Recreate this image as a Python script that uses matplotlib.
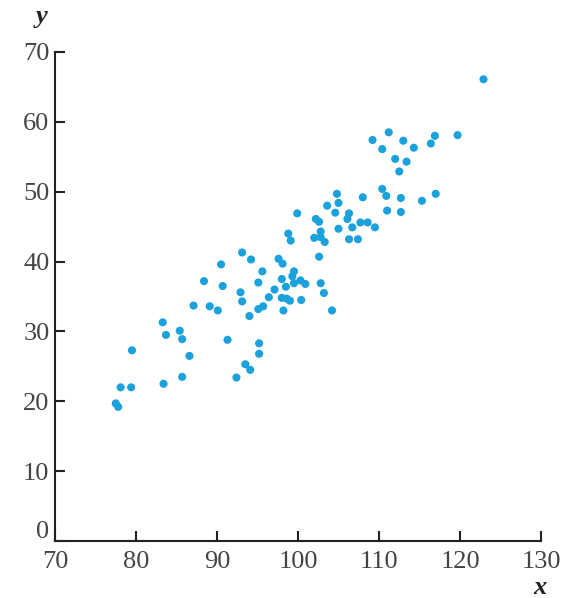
import numpy as np
import matplotlib
matplotlib.use('Agg')
import matplotlib.pyplot as plt
import matplotlib.transforms as mtransforms

# 数据
x_vals = [77.5, 77.8, 78.1, 79.4, 79.5, 83.3, 83.7, 83.4, 85.4, 85.7,
          86.6, 85.7, 87.1, 89.1, 90.1, 88.4, 90.5, 90.7, 91.3, 92.4,
          93.5, 94.1, 95.2, 95.2, 94.0, 93.1, 94.2, 92.9, 93.1, 95.1,
          95.6, 95.1, 95.7, 96.4, 97.1, 97.6, 98.1, 98.0, 99.3, 99.5,
          98.5, 98.0, 98.6, 99.0, 98.2, 100.3, 100.9, 100.4, 99.9, 98.8,
          99.1, 102.0, 102.8, 102.8, 103.3, 102.6, 102.8, 103.2, 104.2, 99.5,
          102.2, 102.6, 103.6, 104.8, 105.0, 104.6, 105.0, 106.3, 106.1, 106.7,
          106.3, 107.4, 107.7, 108.6, 109.5, 108.0, 110.4, 110.9, 112.7, 111.0,
          112.7, 115.3, 117.0, 109.2, 111.2, 110.4, 113.0, 114.3, 112.0, 113.4,
          112.5, 116.4, 116.9, 119.7, 122.9]
y_vals = [19.7, 19.2, 22.0, 22.0, 27.3, 31.3, 29.5, 22.5, 30.1, 28.9,
          26.5, 23.5, 33.7, 33.6, 33.0, 37.2, 39.6, 36.5, 28.8, 23.4,
          25.3, 24.5, 28.3, 26.8, 32.2, 41.3, 40.3, 35.6, 34.3, 37.0,
          38.6, 33.2, 33.6, 34.9, 36.0, 40.4, 39.7, 37.5, 37.9, 38.6,
          36.4, 34.8, 34.7, 34.4, 33.0, 37.3, 36.8, 34.5, 46.9, 44.0,
          43.0, 43.4, 44.3, 43.5, 42.8, 40.7, 36.9, 35.5, 33.0, 36.9,
          46.1, 45.7, 48.0, 49.7, 48.4, 47.0, 44.7, 46.9, 46.1, 44.9,
          43.2, 43.2, 45.6, 45.6, 44.9, 49.2, 50.4, 49.4, 49.1, 47.3,
          47.1, 48.7, 49.7, 57.4, 58.5, 56.1, 57.3, 56.3, 54.7, 54.3,
          52.9, 56.9, 58.0, 58.1, 66.1]
x_ticks = [70, 80, 90, 100, 110, 120, 130]
y_ticks = [0, 10, 20, 30, 40, 50, 60, 70]

fig = plt.figure(figsize=(5.68, 5.98), dpi=100)
ax = fig.add_axes([55 / 568, 57 / 598, 486 / 568, 489 / 598])

ax.scatter(x_vals, y_vals, s=34, color='#1ba1db', edgecolors='none', zorder=3)

ax.set_xlim(70, 130)
ax.set_ylim(0, 70)
ax.set_xticks(x_ticks)
ax.set_yticks(y_ticks)

for s in ['top', 'right']:
    ax.spines[s].set_visible(False)
for s in ['left', 'bottom']:
    ax.spines[s].set_linewidth(1.5)
    ax.spines[s].set_color('#222222')

ax.tick_params(direction='in', length=7, width=1.5, color='#222222',
               labelsize=19, labelcolor='#444444')
ax.tick_params(axis='x', pad=7)
ax.tick_params(axis='y', pad=4)
for lab in ax.get_xticklabels() + ax.get_yticklabels():
    lab.set_family('Liberation Serif')

# 0 标签略微上移，避免与 70 重叠
ylab0 = ax.get_yticklabels()[0]
ylab0.set_transform(ylab0.get_transform() + mtransforms.ScaledTranslation(0, 8 / 72, fig.dpi_scale_trans))

fig.text(42 / 568, 1 - 16 / 598, 'y', fontsize=19, fontweight='bold', fontstyle='italic',
         family='Liberation Serif', ha='center', va='center', color='#222222')
fig.text(540 / 568, 1 - 588 / 598, 'x', fontsize=19, fontweight='bold', fontstyle='italic',
         family='Liberation Serif', ha='center', va='center', color='#222222')

fig.savefig('out.png', dpi=100)
